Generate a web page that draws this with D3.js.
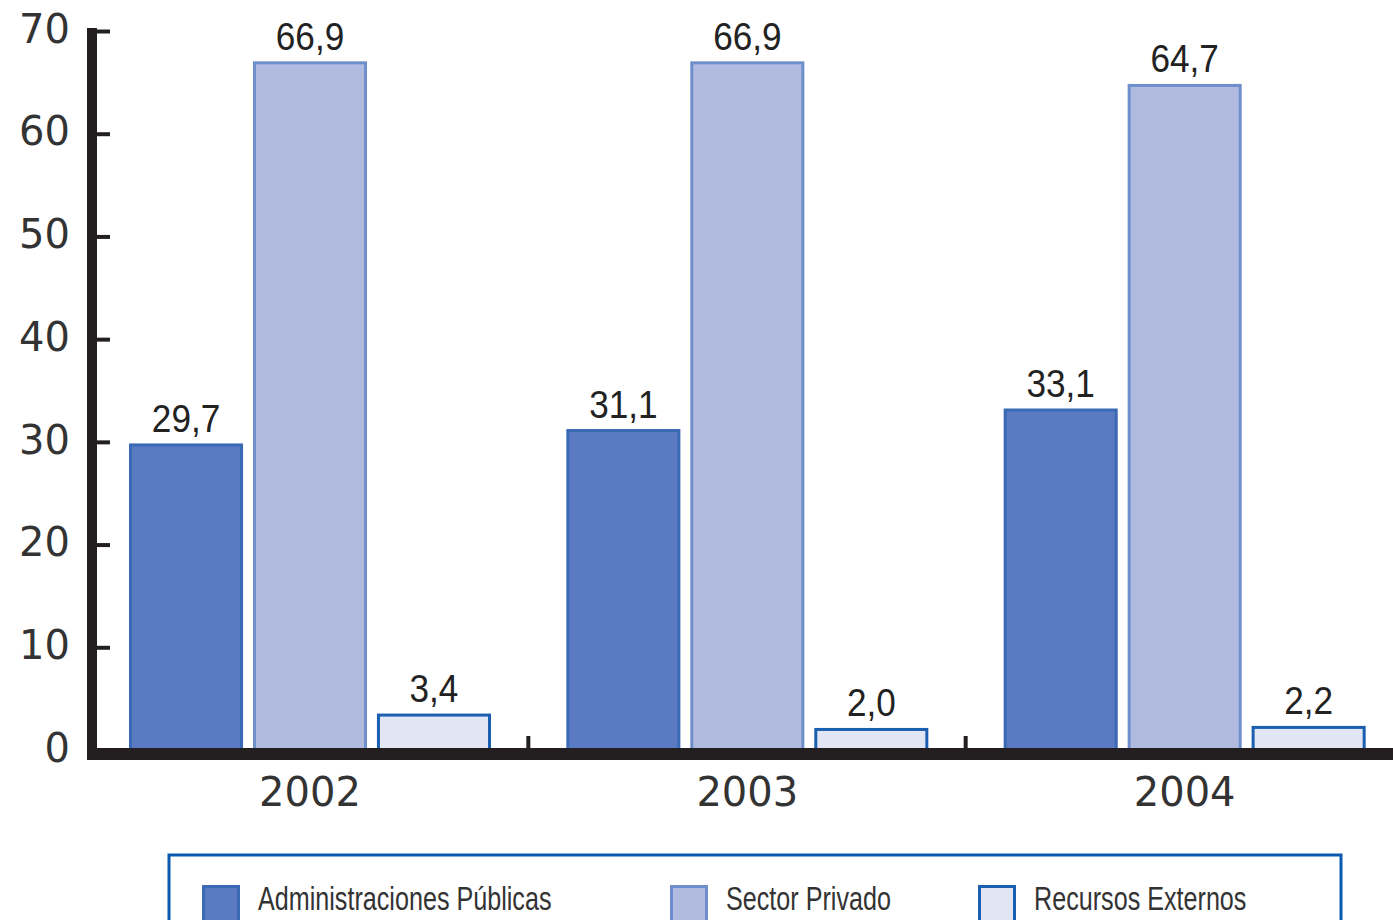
<!DOCTYPE html>
<html>
<head>
<meta charset="utf-8">
<script src="https://d3js.org/d3.v7.min.js"></script>
<style>
  body { margin: 0; background: #fff; }
  svg { display: block; }
</style>
</head>
<body>
<div id="chart"></div>
<script>
// data
var years = ["2002", "2003", "2004"];
var series = ["Administraciones Públicas", "Sector Privado", "Recursos Externos"];
var adminPublicas = [29.7, 31.1, 33.1];
var sectorPrivado = [66.9, 66.9, 64.7];
var recursosExternos = [3.4, 2.0, 2.2];
var yTicks = [0, 10, 20, 30, 40, 50, 60, 70];

var values = [adminPublicas, sectorPrivado, recursosExternos];
var fills = ["#5a7bc1", "#b0bbdf", "#e1e5f4"];
var strokes = ["#3a69b5", "#6f8fcc", "#1a5fb0"];

var width = 1393, height = 920;

var svg = d3.select("#chart").append("svg")
  .attr("width", width)
  .attr("height", height);

var x0 = d3.scaleBand().domain(years).range([91, 1403]);
var x1 = d3.scaleBand().domain(series).range([38, 400]).paddingInner(0.08);
var y = d3.scaleLinear().domain([0, 70]).range([750, 31]);

var comma = d3.formatLocale({decimal: ",", thousands: ".", grouping: [3], currency: ["", "€"]}).format(".1f");

// bars
var rows = [];
years.forEach(function (yr, i) {
  series.forEach(function (s, j) {
    rows.push({year: yr, serie: s, idx: j, value: values[j][i]});
  });
});

var bars = svg.append("g").attr("class", "bars");
bars.selectAll("rect")
  .data(rows)
  .enter().append("rect")
  .attr("x", function (d) { return x0(d.year) + x1(d.serie) + 1.5; })
  .attr("y", function (d) { return y(d.value); })
  .attr("width", x1.bandwidth() - 3)
  .attr("height", function (d) { return y(0) - y(d.value); })
  .attr("fill", function (d) { return fills[d.idx]; })
  .attr("stroke", function (d) { return strokes[d.idx]; })
  .attr("stroke-width", 3);

// value labels
bars.selectAll("text")
  .data(rows)
  .enter().append("text")
  .attr("transform", function (d) {
    var cx = x0(d.year) + x1(d.serie) + x1.bandwidth() / 2;
    return "translate(" + cx + "," + (y(d.value) - 13) + ") scale(0.95,1.05)";
  })
  .attr("text-anchor", "middle")
  .style("font-family", "'Liberation Sans', Arial, sans-serif")
  .style("font-size", "37px")
  .style("fill", "#222")
  .text(function (d) { return comma(d.value); });

// y axis
var yAxis = d3.axisLeft(y)
  .tickValues(yTicks)
  .tickSizeInner(-18)
  .tickSizeOuter(0)
  .tickPadding(22);

var gy = svg.append("g")
  .attr("class", "y_axis")
  .attr("transform", "translate(92,0)")
  .call(yAxis);
gy.select(".domain").remove();
gy.selectAll("line").attr("stroke", "#231f20").attr("stroke-width", 4);
gy.selectAll("text")
  .attr("dy", "0.28em")
  .style("font-family", "'DejaVu Sans', Verdana, sans-serif")
  .style("font-size", "40px")
  .style("fill", "#333");

svg.append("line")
  .attr("x1", 92).attr("x2", 92)
  .attr("y1", y(70) - 3).attr("y2", y(0) + 10)
  .attr("stroke", "#231f20")
  .attr("stroke-width", 10);

// baseline
svg.append("line")
  .attr("x1", 87).attr("x2", width)
  .attr("y1", y(0) + 4).attr("y2", y(0) + 4)
  .attr("stroke", "#231f20")
  .attr("stroke-width", 12);

// separators between years
svg.selectAll(".sep")
  .data(years.slice(1))
  .enter().append("line")
  .attr("class", "sep")
  .attr("x1", function (d) { return x0(d); })
  .attr("x2", function (d) { return x0(d); })
  .attr("y1", y(0) - 14).attr("y2", y(0))
  .attr("stroke", "#231f20")
  .attr("stroke-width", 4);

// category labels
svg.selectAll(".cat")
  .data(years)
  .enter().append("text")
  .attr("class", "cat")
  .attr("x", function (d) { return x0(d) + 219; })
  .attr("y", 806)
  .attr("text-anchor", "middle")
  .style("font-family", "'DejaVu Sans', Verdana, sans-serif")
  .style("font-size", "40px")
  .style("fill", "#333")
  .text(function (d) { return d; });

// legend
var legend = svg.append("g").attr("class", "legend");
legend.append("rect")
  .attr("x", 169).attr("y", 855)
  .attr("width", 1172).attr("height", 90)
  .attr("fill", "none")
  .attr("stroke", "#0a5aad")
  .attr("stroke-width", 3);

var legendX = [202, 670, 978];
var items = legend.selectAll(".item")
  .data(series)
  .enter().append("g")
  .attr("class", "item")
  .attr("transform", function (d, i) { return "translate(" + legendX[i] + ",885)"; });

items.append("rect")
  .attr("x", 1.5).attr("y", 1.5)
  .attr("width", 35).attr("height", 45)
  .attr("fill", function (d, i) { return fills[i]; })
  .attr("stroke", function (d, i) { return strokes[i]; })
  .attr("stroke-width", 3);

items.append("text")
  .attr("transform", "translate(56,25) scale(0.74,1)")
  .style("font-family", "'Liberation Sans', Arial, sans-serif")
  .style("font-size", "34px")
  .style("fill", "#333")
  .text(function (d) { return d; });
</script>
</body>
</html>
